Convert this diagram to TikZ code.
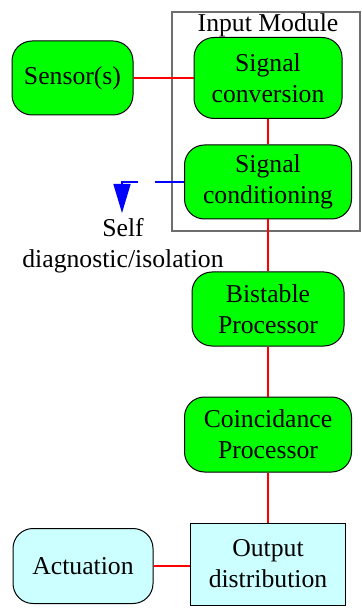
\documentclass[tikz,border=0pt]{standalone}
\usepackage{fontspec}
\setmainfont{Liberation Serif}
\usepackage{xcolor}
\usetikzlibrary{arrows.meta}

\definecolor{boxgray}{RGB}{110,110,110}
\definecolor{lightcyan}{RGB}{204,255,255}

\begin{document}
\begin{tikzpicture}[x=0.5pt, y=-0.5pt,
  testo/.style={font=\fontsize{12.85}{15.5}\selectfont},
  blocco/.style={testo, draw, line width=0.5pt, rounded corners=10pt, fill=green, align=center, inner sep=0pt},
  uscita/.style={testo, draw, line width=0.5pt, fill=lightcyan, align=center, inner sep=0pt},
  link/.style={red, line width=0.8pt},
  diag/.style={blue, line width=0.8pt, dash pattern=on 14.5pt off 8.5pt, -{Triangle[width=8.5pt,length=14.5pt]}}]

\useasboundingbox (0,0) rectangle (362,608);

% Riquadro del modulo di ingresso
\draw[boxgray, line width=0.6pt] (172,12) rectangle (360,231);
\node[testo, anchor=base] (modlabel) at (268,32) {Input Module};

% Blocchi della catena
\node[blocco, minimum width=60.5pt, minimum height=37pt] (sensor) at (72.5,78) {Sensor(s)};
\node[blocco, minimum width=74pt, minimum height=40.5pt] (conv) at (268,78) {Signal\\conversion};
\node[blocco, minimum width=83.5pt, minimum height=37pt] (cond) at (268,182) {Signal\\conditioning};
\node[blocco, minimum width=76pt, minimum height=37pt] (bist) at (268,309) {Bistable\\Processor};
\node[blocco, minimum width=83.5pt, minimum height=37.5pt] (coin) at (268,434.5) {Coincidance\\Processor};

% Uscita e attuazione
\node[uscita, minimum width=77.5pt, minimum height=41pt] (out) at (268,564) {Output\\distribution};
\node[blocco, fill=lightcyan, minimum width=70pt, minimum height=37.5pt] (act) at (83,566) {Actuation};

% Collegamenti
\draw[link] (sensor) -- (conv);
\draw[link] (conv) -- (cond);
\draw[link] (cond) -- (bist);
\draw[link] (bist) -- (coin);
\draw[link] (coin) -- (out);
\draw[link] (act.east) -- (act.east -| out.west);

% Freccia di autodiagnosi
\coordinate (diagtip) at (122,213);
\draw[diag] (cond.west) -| (diagtip);
\node[testo, align=center, inner sep=0pt] (diaglabel) at (123,246) {Self\\diagnostic/isolation};

\end{tikzpicture}
\end{document}
